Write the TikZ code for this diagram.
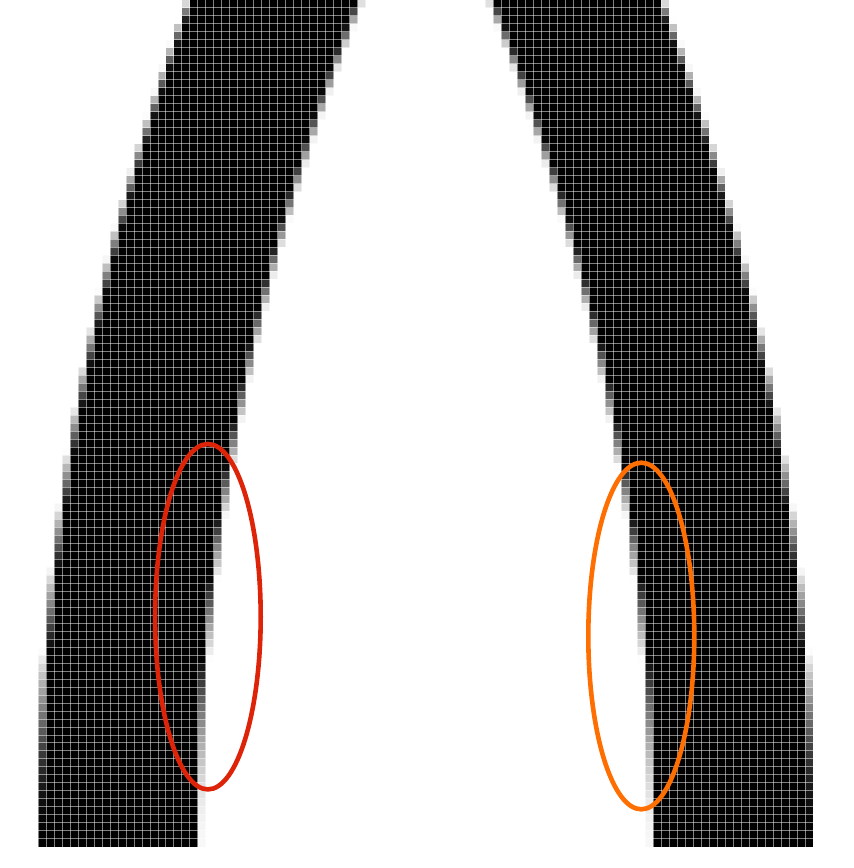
\documentclass[tikz,border=0pt]{standalone}
\definecolor{ringred}{RGB}{222,36,8}
\definecolor{ringorange}{RGB}{255,110,0}
\def\pxs{7.99}
\def\gridx{6.04}
\def\gridy{-0.24}
% edges of the left band at height #2 (image pixels, y downwards)
\newcommand\calcedges[2]{%
  \pgfmathsetmacro\tmpu{(850-(#2))/100}%
  \pgfmathsetmacro\tmpR{198+2.076*\tmpu*\tmpu+0.0195*\tmpu*\tmpu*\tmpu}%
  \pgfmathsetmacro\tmpS{(4.152*\tmpu+0.0585*\tmpu*\tmpu)/100}%
  \pgfmathsetmacro\tmpL{\tmpR-160*sqrt(1+\tmpS*\tmpS)+2*\tmpu*\tmpu/72}%
  \expandafter\let\csname edgeR#1\endcsname\tmpR
  \expandafter\let\csname edgeL#1\endcsname\tmpL}
% partial (antialiased) pixels along one edge
% #1: r = black right of edge, l = black left of edge; #2-#5 samples; #6 row top
\newcommand\edgepix[6]{%
  \pgfmathsetmacro\emin{min((#2),(#3),(#4),(#5))}%
  \pgfmathsetmacro\emax{max((#2),(#3),(#4),(#5))}%
  \pgfmathtruncatemacro\ja{floor((\emin-\gridx)/\pxs)}%
  \pgfmathtruncatemacro\jb{floor((\emax-\gridx)/\pxs)}%
  \foreach \jj in {\ja,...,\jb}{%
    \pgfmathsetmacro\px{\gridx+\jj*\pxs}%
    \if r#1
      \pgfmathsetmacro\cv{25*(min(max((\px+\pxs-(#2))/\pxs,0),1)+min(max((\px+\pxs-(#3))/\pxs,0),1)+min(max((\px+\pxs-(#4))/\pxs,0),1)+min(max((\px+\pxs-(#5))/\pxs,0),1))}%
    \else
      \pgfmathsetmacro\cv{25*(min(max(((#2)-\px)/\pxs,0),1)+min(max(((#3)-\px)/\pxs,0),1)+min(max(((#4)-\px)/\pxs,0),1)+min(max(((#5)-\px)/\pxs,0),1))}%
    \fi
    \fill[black!\cv] (\px,#6) rectangle ({\px+\pxs},{#6+\pxs});
  }}
\tikzset{
  gridline/.style={white, opacity=0.5, line width=0.7pt},
  ring/.style={line width=4.6pt}
}
\begin{document}
\begin{tikzpicture}[x=1pt,y=-1pt]
\useasboundingbox (0,0) rectangle (854,868);
\fill[white] (0,0) rectangle (854,868);
% rasterised bands
\foreach \ii in {0,...,105}{
  \pgfmathsetmacro\yt{\gridy+\ii*\pxs}
  \calcedges{a}{\yt+0.125*\pxs}
  \calcedges{b}{\yt+0.375*\pxs}
  \calcedges{c}{\yt+0.625*\pxs}
  \calcedges{d}{\yt+0.875*\pxs}
  % left band
  \edgepix{r}{\edgeLa}{\edgeLb}{\edgeLc}{\edgeLd}{\yt}
  \let\fullA\jb
  \edgepix{l}{\edgeRa}{\edgeRb}{\edgeRc}{\edgeRd}{\yt}
  \fill[black] ({\gridx+(\fullA+1)*\pxs},\yt) rectangle ({\gridx+\ja*\pxs},{\yt+\pxs});
  % right band (mirror image)
  \edgepix{r}{851-\edgeRa}{851-\edgeRb}{851-\edgeRc}{851-\edgeRd}{\yt}
  \let\fullA\jb
  \edgepix{l}{851-\edgeLa}{851-\edgeLb}{851-\edgeLc}{851-\edgeLd}{\yt}
  \fill[black] ({\gridx+(\fullA+1)*\pxs},\yt) rectangle ({\gridx+\ja*\pxs},{\yt+\pxs});
}
% pixel grid
\foreach \jj in {0,...,105}
  \draw[gridline] ({\gridx+\jj*\pxs},\gridy) -- ({\gridx+\jj*\pxs},846.7);
\foreach \ii in {0,...,105}
  \draw[gridline] (0,{\gridy+\ii*\pxs}) -- (854,{\gridy+\ii*\pxs});
% rings
\draw[ring, ringred] (207.9,616.7) ellipse [x radius=52.8pt, y radius=172.7pt];
\draw[ring, ringorange] (641.3,636) ellipse [x radius=53pt, y radius=173.3pt];
\end{tikzpicture}
\end{document}
